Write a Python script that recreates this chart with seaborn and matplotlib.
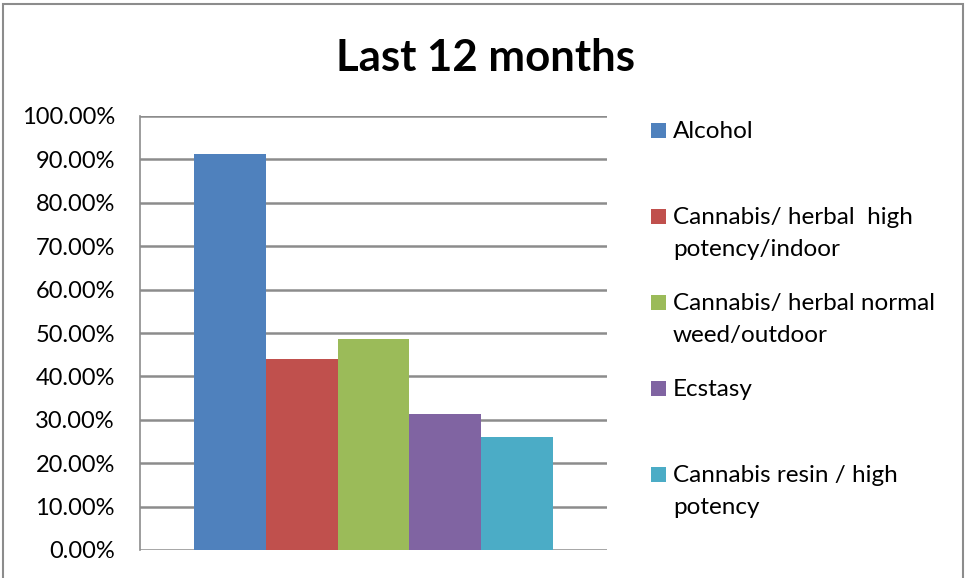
import pandas as pd
import numpy as np
import matplotlib
matplotlib.use('Agg')
import matplotlib.pyplot as plt
from matplotlib.patches import Rectangle
from matplotlib.ticker import FuncFormatter
import seaborn as sns

# data
period = ["Last 12 months"]
drugs = ["Alcohol",
         "Cannabis/ herbal  high\npotency/indoor",
         "Cannabis/ herbal normal\nweed/outdoor",
         "Ecstasy",
         "Cannabis resin / high\npotency"]
share = [91.2, 44.1, 48.7, 31.4, 26.1]
colors = ["#4F81BD", "#C0504D", "#9BBB59", "#8064A2", "#4BACC6"]

df = pd.DataFrame({"period": period * len(drugs), "drug": drugs, "share": share})

sns.set_style("white")
plt.rcParams['font.family'] = ['Lato', 'DejaVu Sans']
plt.rcParams['text.color'] = 'black'

W, H = 965, 578
fig = plt.figure(figsize=(W / 100, H / 100), dpi=100)
ax = fig.add_axes([140 / W, 1 - 550 / H, (607 - 140) / W, (550 - 116) / H])

sns.barplot(data=df, x="period", y="share", hue="drug", palette=colors,
            hue_order=drugs, width=0.8, saturation=1, legend=False,
            linewidth=0, edgecolor='none', ax=ax)

ax.set_ylim(0, 100)
ax.set_xlim(-0.52, 0.52)
ax.set_yticks(np.arange(0, 101, 10))
ax.yaxis.set_major_formatter(FuncFormatter(lambda v, p: f"{v:.2f}%"))
ax.tick_params(axis='y', labelsize=17, pad=18, length=0, labelcolor='black')
ax.set_xticks([])
ax.set_xlabel("")
ax.set_ylabel("")
ax.grid(axis='y', color='#8C8C8C', linewidth=1.8)
ax.set_axisbelow(True)
for side in ['top', 'right', 'bottom']:
    ax.spines[side].set_visible(False)
ax.spines['left'].set_color('#8C8C8C')
ax.spines['left'].set_linewidth(1.2)

# title
fig.text(485 / W, 1 - 58 / H, "Last 12 months", ha='center', va='center',
         fontsize=31.5, fontweight='bold', color='black')

# legend, Excel style: first lines on equal steps
for i, (lab, c) in enumerate(zip(drugs, colors)):
    yc = 130 + 86 * i
    fig.patches.append(Rectangle((651 / W, 1 - (yc + 7.5) / H), 15 / W, 15 / H,
                                 facecolor=c, edgecolor='none',
                                 transform=fig.transFigure))
    fig.text(673 / W, 1 - (yc - 9) / H, lab, ha='left', va='top',
             fontsize=17.5, linespacing=1.65, color='black')

# outer chart border
fig.patches.append(Rectangle((3 / W, -0.01), (963 - 3) / W, 1 - 4 / H + 0.01,
                             facecolor='none', edgecolor='#8C8C8C', linewidth=1.5,
                             transform=fig.transFigure))

fig.savefig("out.png", dpi=100)
